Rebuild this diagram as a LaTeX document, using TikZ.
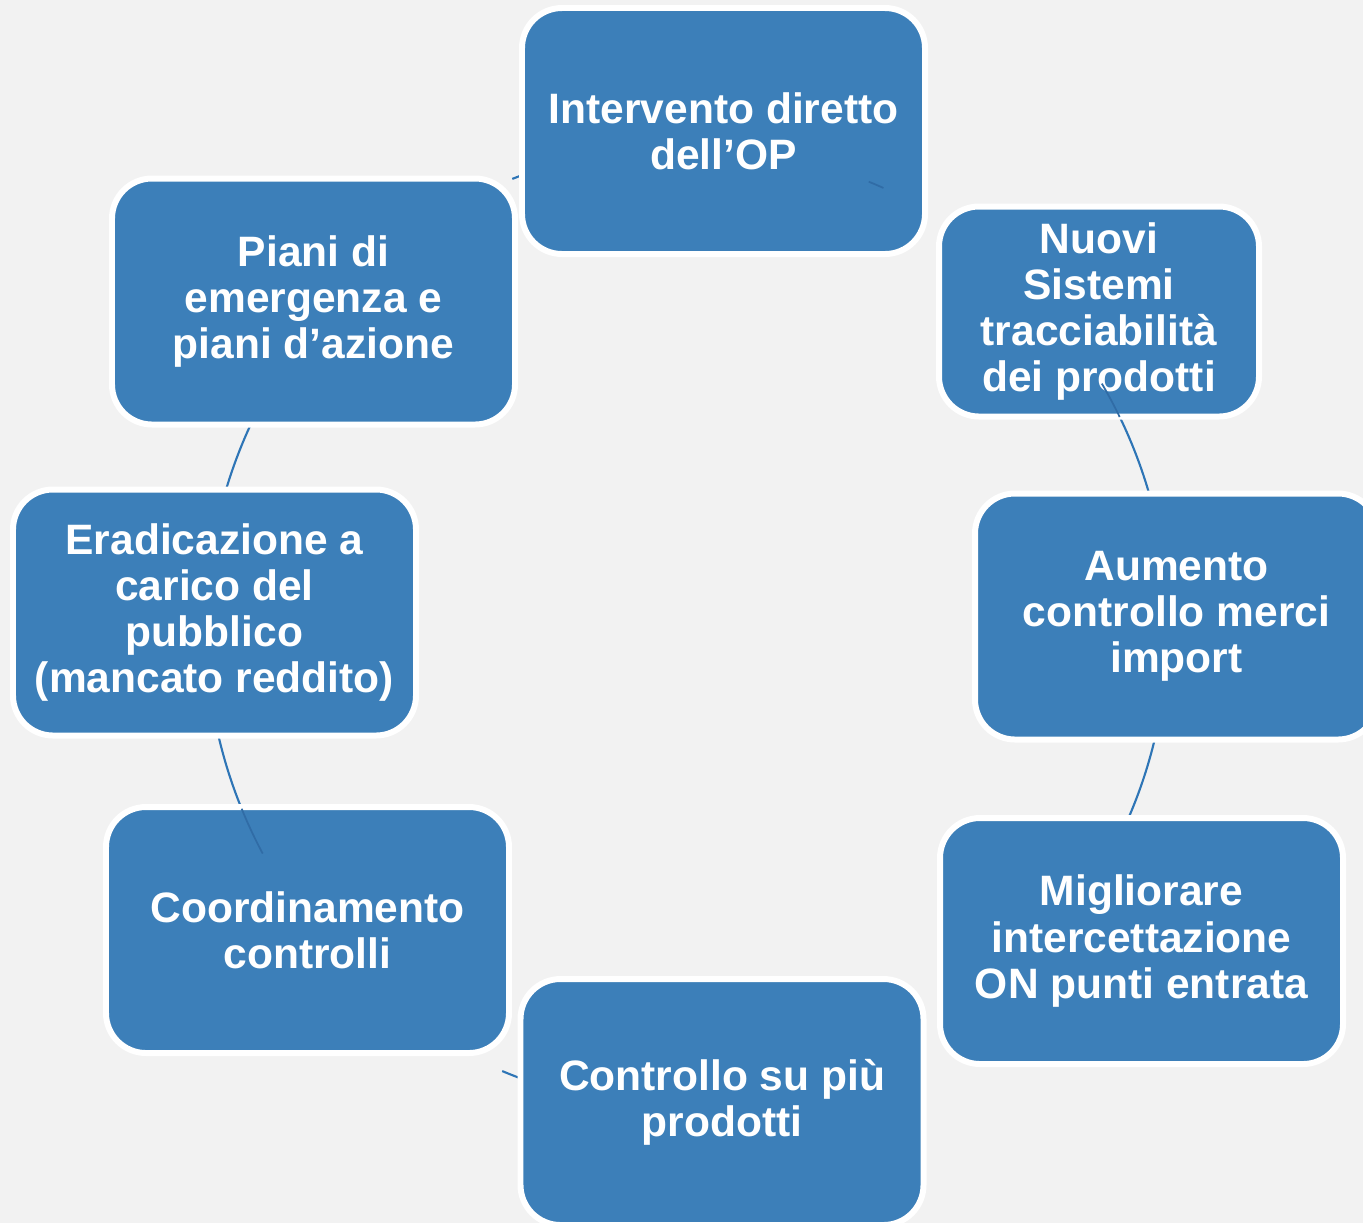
\documentclass[tikz,border=0pt]{standalone}
\usepackage{fontspec}
\setmainfont{Liberation Sans}
\usetikzlibrary{positioning,calc}

\definecolor{boxblue}{RGB}{60,127,185}
\definecolor{ringblue}{RGB}{46,117,182}
\definecolor{faintblue}{RGB}{48,108,166}
\definecolor{paper}{RGB}{242,242,242}

\tikzset{
  cyclebox/.style={draw=white, line width=1.7pt, fill=boxblue, rounded corners=0.4cm,
    minimum width=4.03cm, minimum height=2.46cm, inner sep=0pt, align=center,
    text=white, font=\bfseries\fontsize{12.1}{13.1}\selectfont},
  ring/.style={draw=ringblue, line width=0.6pt},
  faint/.style={draw=faintblue, line width=0.5pt}
}

\begin{document}
\begin{tikzpicture}

	\def\rad{4.81};

	\useasboundingbox (0,0) rectangle (13.63,-12.23);
	\clip (0,0) rectangle (13.63,-12.23);
	\fill[paper] (0,0) rectangle (13.63,-12.23);

	\coordinate (ctr) at (6.87,-6.27);

	% arcs of the ring, behind the boxes
	\foreach \name/\a/\b in {c81/111.3/109.5, c23/27/15, c34/-12/-24, c56/-112.6/-110, c67/-168/-152, c78/154/165} {
		\coordinate (\name) at ($(ctr)+(\a:\rad)$);
		\draw[ring] (\name) arc[start angle=\a, end angle=\b, radius=\rad];
	}

	\foreach \name/\x/\y/\txt in {
		b1/7.235/-1.31/{Intervento diretto\\dell’OP},
		b3/11.765/-6.165/{Aumento\\controllo merci\\import},
		b4/11.415/-9.41/{Migliorare\\intercettazione\\ON punti entrata},
		b5/7.22/-11.02/{Controllo su più\\prodotti},
		b6/3.075/-9.30/{Coordinamento\\controlli},
		b7/2.145/-6.125/{Eradicazione a\\carico del\\pubblico\\(mancato reddito)},
		b8/3.135/-3.015/{Piani di\\emergenza e\\piani d’azione}} {
		\node[cyclebox] (\name) at (\x,\y) {\txt};
	}
	\node[cyclebox, minimum width=3.2cm, minimum height=2.1cm] (b2) at (10.99,-3.115) {Nuovi\\Sistemi\\tracciabilità\\dei prodotti};

	% faint ends of the ring over the boxes
	\draw[faint] ($(ctr)+(67.8:\rad)$) arc[start angle=67.8, end angle=65.9, radius=\rad];
	\draw[faint] ($(ctr)+(30.4:\rad)$) arc[start angle=30.4, end angle=25.9, radius=\rad];
	\draw[faint] ($(ctr)+(202.2:\rad)$) arc[start angle=202.2, end angle=208.1, radius=\rad];

\end{tikzpicture}
\end{document}
